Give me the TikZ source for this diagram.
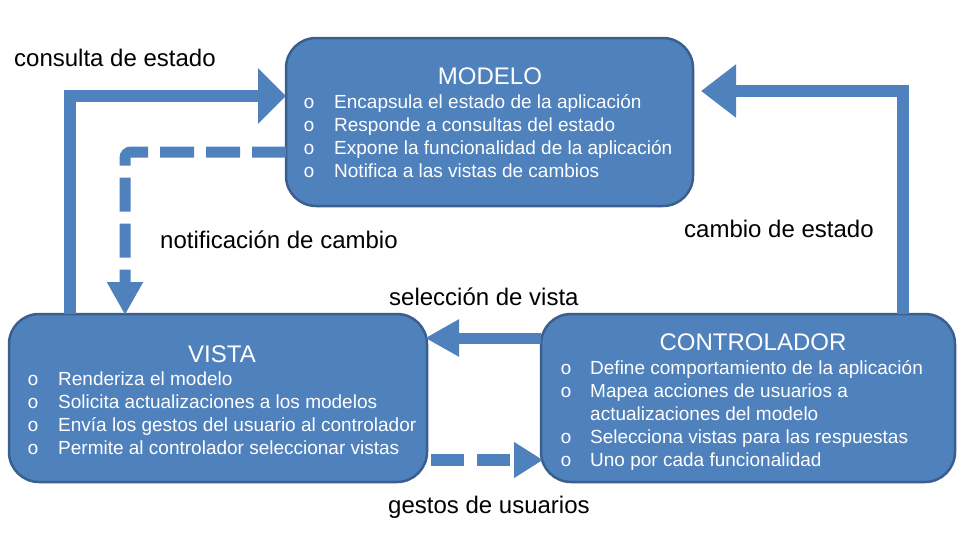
\documentclass[tikz,border=0pt]{standalone}
\usepackage{fontspec}
\setmainfont{Liberation Sans}
\newfontfamily\bulletfont{Liberation Mono}
\usetikzlibrary{arrows.meta}
\definecolor{boxfill}{HTML}{4F81BD}
\definecolor{boxline}{HTML}{3A5F8E}
\tikzset{
 box/.style={draw=boxline, line width=2.5pt, fill=boxfill, rounded corners=30pt,
   minimum width=#1, minimum height=168pt, inner sep=0pt, outer sep=0pt},
 ttl/.style={anchor=base, text=white, font=\fontsize{24}{28}\selectfont, inner sep=0pt},
 itm/.style={anchor=base west, text=white, font=\fontsize{19}{23}\selectfont, inner sep=0pt},
 bul/.style={anchor=base, text=white, font=\bulletfont\fontsize{19}{23}\selectfont, inner sep=0pt},
 lbl/.style={anchor=base west, text=black, font=\fontsize{24}{28}\selectfont, inner sep=0pt},
 flow/.style={draw=boxfill, line width=12pt, line join=miter},
}
\begin{document}
\begin{tikzpicture}[x=1pt,y=-1pt]
\useasboundingbox (0,0) rectangle (964,546);
% boxes
\node[box=407pt] (modelo) at (489.5,122) {};
\node[box=418pt] (vista) at (218,398) {};
\node[box=414pt] (ctrl) at (748,398) {};
% MODELO text
\node[ttl] (tm) at (490,84) {MODELO};
\node[bul] (bm1) at (309,108) {o}; \node[itm] (im1) at (334,108) {Encapsula el estado de la aplicación};
\node[bul] (bm2) at (309,131) {o}; \node[itm] (im2) at (334,131) {Responde a consultas del estado};
\node[bul] (bm3) at (309,154) {o}; \node[itm] (im3) at (334,154) {Expone la funcionalidad de la aplicación};
\node[bul] (bm4) at (309,177) {o}; \node[itm] (im4) at (334,177) {Notifica a las vistas de cambios};
% VISTA text
\node[ttl] (tv) at (222,362) {VISTA};
\node[bul] (bv1) at (33,385) {o}; \node[itm] (iv1) at (58,385) {Renderiza el modelo};
\node[bul] (bv2) at (33,408) {o}; \node[itm] (iv2) at (58,408) {Solicita actualizaciones a los modelos};
\node[bul] (bv3) at (33,431) {o}; \node[itm] (iv3) at (58,431) {Envía los gestos del usuario al controlador};
\node[bul] (bv4) at (33,454) {o}; \node[itm] (iv4) at (58,454) {Permite al controlador seleccionar vistas};
% CONTROLADOR text
\node[ttl] (tc) at (753,350) {CONTROLADOR};
\node[bul] (bc1) at (566,374) {o}; \node[itm] (ic1) at (590,374) {Define comportamiento de la aplicación};
\node[bul] (bc2) at (566,397) {o}; \node[itm] (ic2) at (590,397) {Mapea acciones de usuarios a};
\node[itm] (ic2b) at (590,420) {actualizaciones del modelo};
\node[bul] (bc3) at (566,443) {o}; \node[itm] (ic3) at (590,443) {Selecciona vistas para las respuestas};
\node[bul] (bc4) at (566,466) {o}; \node[itm] (ic4) at (590,466) {Uno por cada funcionalidad};
% labels
\node[lbl] (l1) at (14,66) {consulta de estado};
\node[lbl] (l2) at (160,248) {notificación de cambio};
\node[lbl] (l3) at (684,237) {cambio de estado};
\node[lbl] (l4) at (389,305) {selección de vista};
\node[lbl] (l5) at (388,513) {gestos de usuarios};
% connectors
\coordinate (k1) at (70,96);
\coordinate (k2) at (903,91);
\coordinate (k3) at (125,152);
\coordinate (k4) at (0,338);
\coordinate (k5) at (0,460);
\draw[flow, -{Triangle[length=28pt,width=54pt]}] (vista.north -| k1) |- (modelo.west |- k1);
\draw[flow, -{Triangle[length=35pt,width=51pt]}] (ctrl.north -| k2) |- ([xshift=8pt]modelo.east |- k2);
\draw[flow, line width=11pt, rounded corners=6pt, dash pattern=on 34pt off 12pt,
  -{Triangle[length=33pt,width=34pt]}] (modelo.west |- k3) -| ([yshift=-1pt]vista.north -| k3);
\draw[flow, line width=11pt, -{Triangle[length=34pt,width=35pt]}] (ctrl.west |- k4) -- ([xshift=-2pt]vista.east |- k4);
\draw[flow, line width=12pt, dash pattern=on 33pt off 13pt,
  -{Triangle[length=29pt,width=34pt]}] ([xshift=4pt]vista.east |- k5) -- ([xshift=2pt]ctrl.west |- k5);
\end{tikzpicture}
\end{document}
